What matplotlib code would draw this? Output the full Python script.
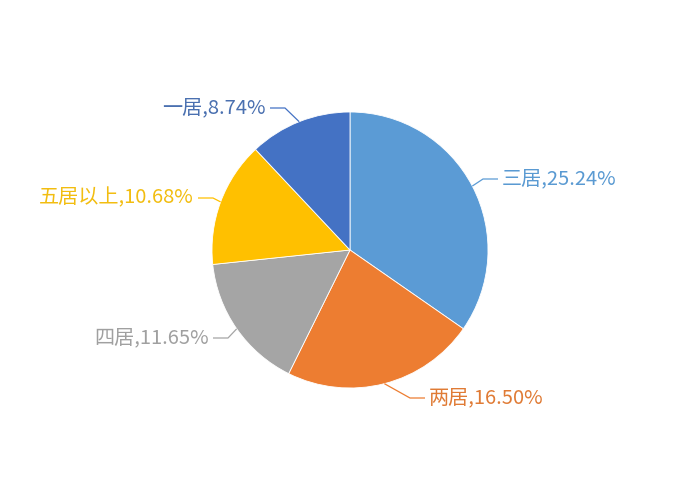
import numpy as np
import matplotlib
matplotlib.use('Agg')
import matplotlib.pyplot as plt

plt.rcParams['font.family'] = ['Noto Sans CJK SC', 'DejaVu Sans']

# data, in drawing order (clockwise from 12 o'clock)
labels = ['三居', '两居', '四居', '五居以上', '一居']
shares = [25.24, 16.50, 11.65, 10.68, 8.74]
colors = ['#5B9BD5', '#ED7D31', '#A5A5A5', '#FFC000', '#4472C4']
text_colors = ['#5a9ad2', '#e07b35', '#a0a0a0', '#f2bd10', '#4a70b0']

# where each label line bends (pixels from the pie centre, y up)
elbows = [(133, 71), (60, -148), (-122, -88), (-137, 52), (-65, 142)]

W, H = 700, 500
cx, cy, r = 350, 250, 138

fig = plt.figure(figsize=(7, 5), dpi=100)
ax = fig.add_axes([0, 0, 1, 1])

wedges, _ = ax.pie(shares, colors=colors, startangle=90, counterclock=False,
                   center=(cx, cy), radius=r, frame=True,
                   wedgeprops=dict(edgecolor='white', linewidth=0.6))
ax.set_xlim(0, W)
ax.set_ylim(0, H)
ax.set_aspect('equal')
ax.axis('off')

for w, lab, val, col, tcol, (ex, ey) in zip(wedges, labels, shares, colors,
                                             text_colors, elbows):
    mid = np.deg2rad((w.theta1 + w.theta2) / 2)
    sx, sy = cx + r * np.cos(mid), cy + r * np.sin(mid)
    bx, by = cx + ex, cy + ey
    side = 1 if ex > 0 else -1
    tx = bx + side * 15
    ax.plot([sx, bx, tx], [sy, by, by], color=col, lw=0.9, solid_capstyle='butt')
    ax.text(tx + side * 4, by, f'{lab},{val:.2f}%', color=tcol, fontsize=14.5,
            ha='left' if side > 0 else 'right', va='center')

fig.savefig('out.png', dpi=100, facecolor='white')
